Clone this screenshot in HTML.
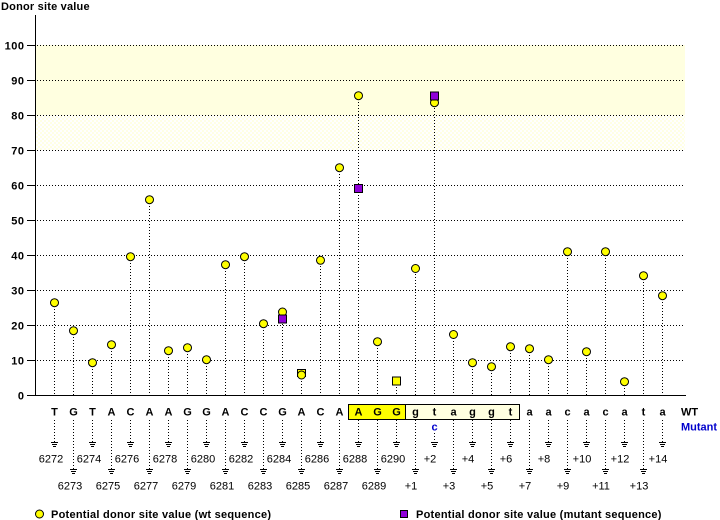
<!DOCTYPE html>
<html>
<head>
<meta charset="utf-8">
<style>
html,body{margin:0;padding:0;background:#fff;}
svg{display:block;}
text{font-family:"Liberation Sans",Arial,sans-serif;}
.b{font-weight:bold;font-size:11px;}
.n{font-size:11px;}
</style>
</head>
<body>
<svg width="720" height="520" viewBox="0 0 720 520" xmlns="http://www.w3.org/2000/svg">
<defs>
<pattern id="chk" width="4" height="4" patternUnits="userSpaceOnUse">
<rect width="4" height="4" fill="#ffffff"/>
<rect width="2" height="2" fill="#ffffe4"/>
<rect x="2" y="2" width="2" height="2" fill="#ffffe4"/>
</pattern>
</defs>

<!-- title -->
<text x="1" y="10" class="b" letter-spacing="0.2">Donor site value</text>

<!-- band -->
<rect x="36" y="45" width="649" height="70" fill="#ffffe0"/>
<rect x="36" y="115" width="649" height="35" fill="url(#chk)"/>

<!-- grid lines -->
<g stroke="#000" stroke-width="1" stroke-dasharray="1 2">
<line x1="37" y1="45.5" x2="685" y2="45.5"/>
<line x1="37" y1="80.5" x2="685" y2="80.5"/>
<line x1="37" y1="115.5" x2="685" y2="115.5"/>
<line x1="37" y1="150.5" x2="685" y2="150.5"/>
<line x1="37" y1="185.5" x2="685" y2="185.5"/>
<line x1="37" y1="220.5" x2="685" y2="220.5"/>
<line x1="37" y1="255.5" x2="685" y2="255.5"/>
<line x1="37" y1="290.5" x2="685" y2="290.5"/>
<line x1="37" y1="325.5" x2="685" y2="325.5"/>
<line x1="37" y1="360.5" x2="685" y2="360.5"/>
</g>

<!-- axes -->
<g stroke="#000" stroke-width="1">
<line x1="35.5" y1="15" x2="35.5" y2="396"/>
<line x1="27" y1="395.5" x2="686" y2="395.5"/>
<line x1="27" y1="45.5" x2="35" y2="45.5"/>
<line x1="27" y1="80.5" x2="35" y2="80.5"/>
<line x1="27" y1="115.5" x2="35" y2="115.5"/>
<line x1="27" y1="150.5" x2="35" y2="150.5"/>
<line x1="27" y1="185.5" x2="35" y2="185.5"/>
<line x1="27" y1="220.5" x2="35" y2="220.5"/>
<line x1="27" y1="255.5" x2="35" y2="255.5"/>
<line x1="27" y1="290.5" x2="35" y2="290.5"/>
<line x1="27" y1="325.5" x2="35" y2="325.5"/>
<line x1="27" y1="360.5" x2="35" y2="360.5"/>
</g>

<!-- y tick labels -->
<g class="b" text-anchor="end" letter-spacing="0.5">
<text x="24.5" y="49.5">100</text>
<text x="24.5" y="84.5">90</text>
<text x="24.5" y="119.5">80</text>
<text x="24.5" y="154.5">70</text>
<text x="24.5" y="189.5">60</text>
<text x="24.5" y="224.5">50</text>
<text x="24.5" y="259.5">40</text>
<text x="24.5" y="294.5">30</text>
<text x="24.5" y="329.5">20</text>
<text x="24.5" y="364.5">10</text>
<text x="24.5" y="399.5">0</text>
</g>

<!-- stems -->
<g stroke="#000" stroke-width="1" stroke-dasharray="1 2">
<line x1="54.5" y1="303" x2="54.5" y2="395"/>
<line x1="73.5" y1="331" x2="73.5" y2="395"/>
<line x1="92.5" y1="363" x2="92.5" y2="395"/>
<line x1="111.5" y1="345" x2="111.5" y2="395"/>
<line x1="130.5" y1="257" x2="130.5" y2="395"/>
<line x1="149.5" y1="200" x2="149.5" y2="395"/>
<line x1="168.5" y1="351" x2="168.5" y2="395"/>
<line x1="187.5" y1="348" x2="187.5" y2="395"/>
<line x1="206.5" y1="360" x2="206.5" y2="395"/>
<line x1="225.5" y1="265" x2="225.5" y2="395"/>
<line x1="244.5" y1="257" x2="244.5" y2="395"/>
<line x1="263.5" y1="324" x2="263.5" y2="395"/>
<line x1="282.5" y1="312" x2="282.5" y2="395"/>
<line x1="301.5" y1="372" x2="301.5" y2="395"/>
<line x1="320.5" y1="260" x2="320.5" y2="395"/>
<line x1="339.5" y1="168" x2="339.5" y2="395"/>
<line x1="358.5" y1="96" x2="358.5" y2="395"/>
<line x1="377.5" y1="342" x2="377.5" y2="395"/>
<line x1="396.5" y1="381" x2="396.5" y2="395"/>
<line x1="415.5" y1="268" x2="415.5" y2="395"/>
<line x1="434.5" y1="96" x2="434.5" y2="395"/>
<line x1="453.5" y1="335" x2="453.5" y2="395"/>
<line x1="472.5" y1="363" x2="472.5" y2="395"/>
<line x1="491.5" y1="367" x2="491.5" y2="395"/>
<line x1="510.5" y1="347" x2="510.5" y2="395"/>
<line x1="529.5" y1="349" x2="529.5" y2="395"/>
<line x1="548.5" y1="360" x2="548.5" y2="395"/>
<line x1="567.5" y1="252" x2="567.5" y2="395"/>
<line x1="586.5" y1="352" x2="586.5" y2="395"/>
<line x1="605.5" y1="252" x2="605.5" y2="395"/>
<line x1="624.5" y1="382" x2="624.5" y2="395"/>
<line x1="643.5" y1="276" x2="643.5" y2="395"/>
<line x1="662.5" y1="296" x2="662.5" y2="395"/>
</g>

<!-- markers -->
<g stroke="#000" stroke-width="1">
<rect x="297.5" y="369.5" width="8" height="7" fill="#ffff00"/>
</g>
<g stroke="#000" stroke-width="1" fill="#ffff00">
<circle cx="54.5" cy="302.7" r="4"/>
<circle cx="73.5" cy="330.7" r="4"/>
<circle cx="92.5" cy="362.7" r="4"/>
<circle cx="111.5" cy="344.7" r="4"/>
<circle cx="130.5" cy="256.7" r="4"/>
<circle cx="149.5" cy="199.7" r="4"/>
<circle cx="168.5" cy="350.7" r="4"/>
<circle cx="187.5" cy="347.7" r="4"/>
<circle cx="206.5" cy="359.7" r="4"/>
<circle cx="225.5" cy="264.7" r="4"/>
<circle cx="244.5" cy="256.7" r="4"/>
<circle cx="263.5" cy="323.7" r="4"/>
<circle cx="282.5" cy="312" r="4"/>
<circle cx="301.5" cy="375" r="4"/>
<circle cx="320.5" cy="260.3" r="4"/>
<circle cx="339.5" cy="167.7" r="4"/>
<circle cx="358.5" cy="95.7" r="4"/>
<circle cx="377.5" cy="341.7" r="4"/>
<rect x="392.5" y="377" width="8" height="8"/>
<circle cx="415.5" cy="268.5" r="4"/>
<circle cx="434.5" cy="102.7" r="4"/>
<circle cx="453.5" cy="334.5" r="4"/>
<circle cx="472.5" cy="362.7" r="4"/>
<circle cx="491.5" cy="366.7" r="4"/>
<circle cx="510.5" cy="346.7" r="4"/>
<circle cx="529.5" cy="348.7" r="4"/>
<circle cx="548.5" cy="359.7" r="4"/>
<circle cx="567.5" cy="251.7" r="4"/>
<circle cx="586.5" cy="351.7" r="4"/>
<circle cx="605.5" cy="251.7" r="4"/>
<circle cx="624.5" cy="381.7" r="4"/>
<circle cx="643.5" cy="275.7" r="4"/>
<circle cx="662.5" cy="295.7" r="4"/>
</g>
<g stroke="#000" stroke-width="1">
<rect x="354.5" y="184.5" width="8" height="8" fill="#9000d8"/>
<rect x="430.5" y="92" width="8" height="8" fill="#9000d8"/>
<rect x="278.5" y="315" width="8" height="8" fill="#9000d8"/>
</g>

<!-- sequence box -->
<rect x="348.5" y="404.5" width="57" height="15" fill="#ffff00" stroke="#000" stroke-width="1"/>
<rect x="405.5" y="404.5" width="114" height="15" fill="#ffffe0" stroke="#000" stroke-width="1"/>

<!-- sequence letters -->
<g class="b" text-anchor="middle">
<text x="54.5" y="415.5">T</text>
<text x="73.5" y="415.5">G</text>
<text x="92.5" y="415.5">T</text>
<text x="111.5" y="415.5">A</text>
<text x="130.5" y="415.5">C</text>
<text x="149.5" y="415.5">A</text>
<text x="168.5" y="415.5">A</text>
<text x="187.5" y="415.5">G</text>
<text x="206.5" y="415.5">G</text>
<text x="225.5" y="415.5">A</text>
<text x="244.5" y="415.5">C</text>
<text x="263.5" y="415.5">C</text>
<text x="282.5" y="415.5">G</text>
<text x="301.5" y="415.5">A</text>
<text x="320.5" y="415.5">C</text>
<text x="339.5" y="415.5">A</text>
<text x="358.5" y="415.5">A</text>
<text x="377.5" y="415.5">G</text>
<text x="396.5" y="415.5">G</text>
<text x="415.5" y="415.5">g</text>
<text x="434.5" y="415.5">t</text>
<text x="453.5" y="415.5">a</text>
<text x="472.5" y="415.5">g</text>
<text x="491.5" y="415.5">g</text>
<text x="510.5" y="415.5">t</text>
<text x="529.5" y="415.5">a</text>
<text x="548.5" y="415.5">a</text>
<text x="567.5" y="415.5">c</text>
<text x="586.5" y="415.5">a</text>
<text x="605.5" y="415.5">c</text>
<text x="624.5" y="415.5">a</text>
<text x="643.5" y="415.5">t</text>
<text x="662.5" y="415.5">a</text>
<text x="434.5" y="430.5" fill="#0000cc">c</text>
</g>
<text x="681" y="415.5" class="b">WT</text>
<text x="681" y="430.5" class="b" fill="#0000cc">Mutant</text>

<!-- lower dotted lines -->
<g stroke="#000" stroke-width="1" stroke-dasharray="1 2">
<line x1="54.5" y1="420" x2="54.5" y2="442"/>
<line x1="73.5" y1="420" x2="73.5" y2="469"/>
<line x1="92.5" y1="420" x2="92.5" y2="442"/>
<line x1="111.5" y1="420" x2="111.5" y2="469"/>
<line x1="130.5" y1="420" x2="130.5" y2="442"/>
<line x1="149.5" y1="420" x2="149.5" y2="469"/>
<line x1="168.5" y1="420" x2="168.5" y2="442"/>
<line x1="187.5" y1="420" x2="187.5" y2="469"/>
<line x1="206.5" y1="420" x2="206.5" y2="442"/>
<line x1="225.5" y1="420" x2="225.5" y2="469"/>
<line x1="244.5" y1="420" x2="244.5" y2="442"/>
<line x1="263.5" y1="420" x2="263.5" y2="469"/>
<line x1="282.5" y1="420" x2="282.5" y2="442"/>
<line x1="301.5" y1="420" x2="301.5" y2="469"/>
<line x1="320.5" y1="420" x2="320.5" y2="442"/>
<line x1="339.5" y1="420" x2="339.5" y2="469"/>
<line x1="358.5" y1="420" x2="358.5" y2="442"/>
<line x1="377.5" y1="420" x2="377.5" y2="469"/>
<line x1="396.5" y1="420" x2="396.5" y2="442"/>
<line x1="415.5" y1="420" x2="415.5" y2="469"/>
<line x1="434.5" y1="433" x2="434.5" y2="442"/>
<line x1="453.5" y1="420" x2="453.5" y2="469"/>
<line x1="472.5" y1="420" x2="472.5" y2="442"/>
<line x1="491.5" y1="420" x2="491.5" y2="469"/>
<line x1="510.5" y1="420" x2="510.5" y2="442"/>
<line x1="529.5" y1="420" x2="529.5" y2="469"/>
<line x1="548.5" y1="420" x2="548.5" y2="442"/>
<line x1="567.5" y1="420" x2="567.5" y2="469"/>
<line x1="586.5" y1="420" x2="586.5" y2="442"/>
<line x1="605.5" y1="420" x2="605.5" y2="469"/>
<line x1="624.5" y1="420" x2="624.5" y2="442"/>
<line x1="643.5" y1="420" x2="643.5" y2="469"/>
<line x1="662.5" y1="420" x2="662.5" y2="442"/>
</g>

<!-- ground symbols -->
<g stroke="#000" stroke-width="1" fill="none">
<path d="M51,442.5h7M52,444.5h5M53,446.5h3"/>
<path d="M70,469.5h7M71,471.5h5M72,473.5h3"/>
<path d="M89,442.5h7M90,444.5h5M91,446.5h3"/>
<path d="M108,469.5h7M109,471.5h5M110,473.5h3"/>
<path d="M127,442.5h7M128,444.5h5M129,446.5h3"/>
<path d="M146,469.5h7M147,471.5h5M148,473.5h3"/>
<path d="M165,442.5h7M166,444.5h5M167,446.5h3"/>
<path d="M184,469.5h7M185,471.5h5M186,473.5h3"/>
<path d="M203,442.5h7M204,444.5h5M205,446.5h3"/>
<path d="M222,469.5h7M223,471.5h5M224,473.5h3"/>
<path d="M241,442.5h7M242,444.5h5M243,446.5h3"/>
<path d="M260,469.5h7M261,471.5h5M262,473.5h3"/>
<path d="M279,442.5h7M280,444.5h5M281,446.5h3"/>
<path d="M298,469.5h7M299,471.5h5M300,473.5h3"/>
<path d="M317,442.5h7M318,444.5h5M319,446.5h3"/>
<path d="M336,469.5h7M337,471.5h5M338,473.5h3"/>
<path d="M355,442.5h7M356,444.5h5M357,446.5h3"/>
<path d="M374,469.5h7M375,471.5h5M376,473.5h3"/>
<path d="M393,442.5h7M394,444.5h5M395,446.5h3"/>
<path d="M412,469.5h7M413,471.5h5M414,473.5h3"/>
<path d="M431,442.5h7M432,444.5h5M433,446.5h3"/>
<path d="M450,469.5h7M451,471.5h5M452,473.5h3"/>
<path d="M469,442.5h7M470,444.5h5M471,446.5h3"/>
<path d="M488,469.5h7M489,471.5h5M490,473.5h3"/>
<path d="M507,442.5h7M508,444.5h5M509,446.5h3"/>
<path d="M526,469.5h7M527,471.5h5M528,473.5h3"/>
<path d="M545,442.5h7M546,444.5h5M547,446.5h3"/>
<path d="M564,469.5h7M565,471.5h5M566,473.5h3"/>
<path d="M583,442.5h7M584,444.5h5M585,446.5h3"/>
<path d="M602,469.5h7M603,471.5h5M604,473.5h3"/>
<path d="M621,442.5h7M622,444.5h5M623,446.5h3"/>
<path d="M640,469.5h7M641,471.5h5M642,473.5h3"/>
<path d="M659,442.5h7M660,444.5h5M661,446.5h3"/>
</g>

<!-- position labels -->
<g class="n" text-anchor="middle">
<text x="51" y="462.5">6272</text>
<text x="70" y="489.5">6273</text>
<text x="89" y="462.5">6274</text>
<text x="108" y="489.5">6275</text>
<text x="127" y="462.5">6276</text>
<text x="146" y="489.5">6277</text>
<text x="165" y="462.5">6278</text>
<text x="184" y="489.5">6279</text>
<text x="203" y="462.5">6280</text>
<text x="222" y="489.5">6281</text>
<text x="241" y="462.5">6282</text>
<text x="260" y="489.5">6283</text>
<text x="279" y="462.5">6284</text>
<text x="298" y="489.5">6285</text>
<text x="317" y="462.5">6286</text>
<text x="336" y="489.5">6287</text>
<text x="355" y="462.5">6288</text>
<text x="374" y="489.5">6289</text>
<text x="393" y="462.5">6290</text>
<text x="411" y="489.5">+1</text>
<text x="430" y="462.5">+2</text>
<text x="449" y="489.5">+3</text>
<text x="468" y="462.5">+4</text>
<text x="487" y="489.5">+5</text>
<text x="506" y="462.5">+6</text>
<text x="525" y="489.5">+7</text>
<text x="544" y="462.5">+8</text>
<text x="563" y="489.5">+9</text>
<text x="582" y="462.5">+10</text>
<text x="601" y="489.5">+11</text>
<text x="620" y="462.5">+12</text>
<text x="639" y="489.5">+13</text>
<text x="658" y="462.5">+14</text>
</g>

<!-- legend -->
<circle cx="39.5" cy="514" r="4" fill="#ffff00" stroke="#000" stroke-width="1"/>
<text x="51" y="518" class="b" letter-spacing="0.25">Potential donor site value (wt sequence)</text>
<rect x="400.5" y="510.5" width="7" height="7" fill="#9000d8" stroke="#000" stroke-width="1"/>
<text x="416" y="518" class="b" letter-spacing="0.25">Potential donor site value (mutant sequence)</text>
</svg>
</body>
</html>
